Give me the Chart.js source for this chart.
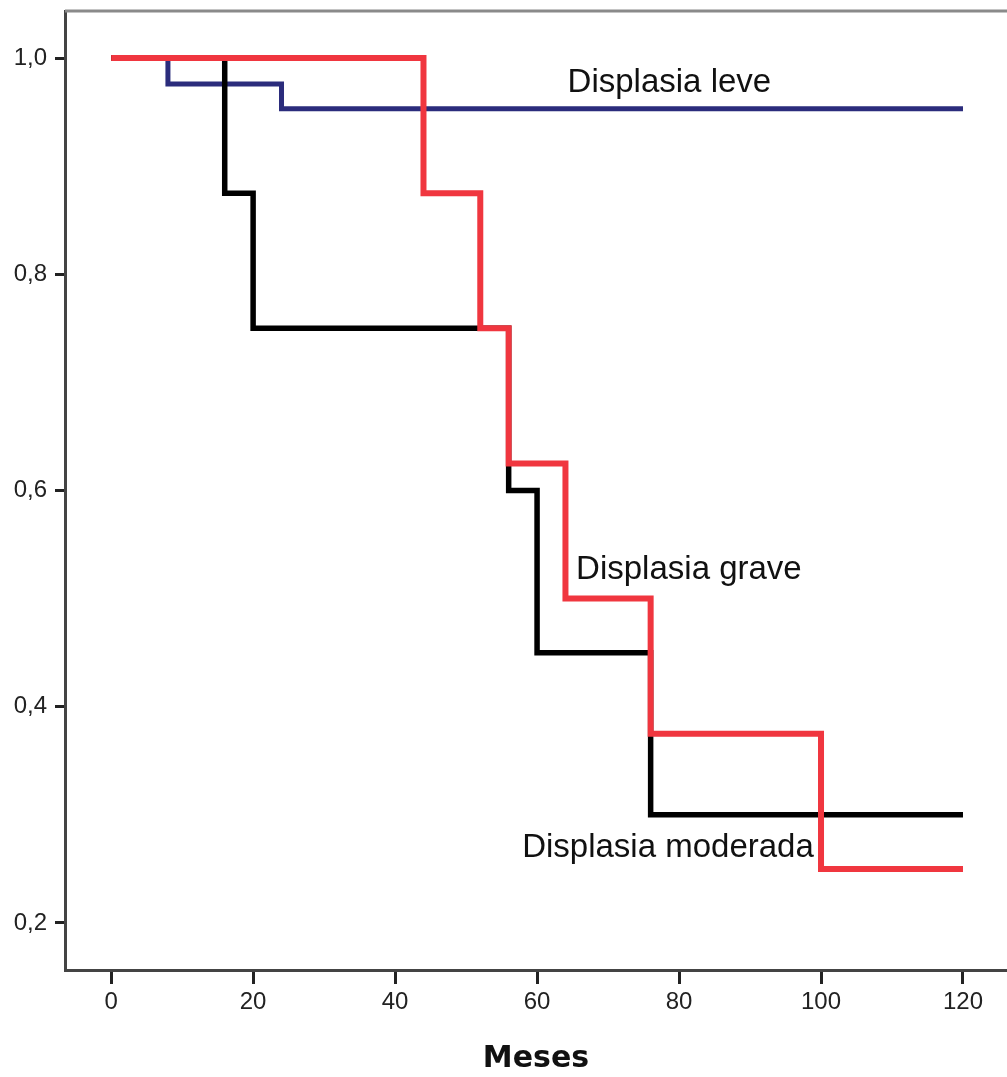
<!DOCTYPE html>
<html>
<head>
<meta charset="utf-8">
<script src="https://cdn.jsdelivr.net/npm/chart.js@4"></script>
<style>
html,body{margin:0;padding:0;background:#fff;}
#wrap{width:1007px;height:1077px;}
</style>
</head>
<body>
<div id="wrap"><canvas id="c" width="1007" height="1077"></canvas></div>
<script>
// Data (Kaplan-Meier step points)
const leveX = [0, 8, 24, 120];
const leveY = [1.0, 0.976, 0.953, 0.953];
const moderadaX = [0, 16, 20, 56, 60, 76, 120];
const moderadaY = [1.0, 0.875, 0.75, 0.6, 0.45, 0.3, 0.3];
const graveX = [0, 44, 52, 56, 64, 76, 100, 120];
const graveY = [1.0, 0.875, 0.75, 0.625, 0.5, 0.375, 0.25, 0.25];
const xTicks = [0, 20, 40, 60, 80, 100, 120];
const yTicks = [0.2, 0.4, 0.6, 0.8, 1.0];
const seriesNames = ["Displasia leve", "Displasia moderada", "Displasia grave"];
const xTitle = "Meses";

function pts(xs, ys) { return xs.map((x, i) => ({x: x, y: ys[i]})); }

const labelPlugin = {
  id: 'curveLabels',
  afterDatasetsDraw(chart) {
    const ctx = chart.ctx;
    const xs = chart.scales.x, ys = chart.scales.y;
    const pos = [[64.3, 0.9685], [57.9, 0.261], [65.5, 0.518]];
    ctx.save();
    ctx.font = '33px "Liberation Sans", Arial, sans-serif';
    ctx.fillStyle = '#111';
    ctx.textAlign = 'left';
    ctx.textBaseline = 'alphabetic';
    seriesNames.forEach((n, i) => {
      ctx.fillText(n, xs.getPixelForValue(pos[i][0]), ys.getPixelForValue(pos[i][1]));
    });
    ctx.restore();
  },
  beforeDatasetsDraw(chart) {
    const ctx = chart.ctx, a = chart.chartArea;
    ctx.save();
    ctx.strokeStyle = '#8a8a8a';
    ctx.lineWidth = 3;
    ctx.beginPath();
    ctx.moveTo(a.left, a.top);
    ctx.lineTo(a.right, a.top);
    ctx.stroke();
    ctx.restore();
  }
};

new Chart(document.getElementById('c'), {
  type: 'line',
  data: {
    datasets: [
      {label: seriesNames[0], data: pts(leveX, leveY), borderColor: '#2b2c7c', borderWidth: 5, order: 3},
      {label: seriesNames[1], data: pts(moderadaX, moderadaY), borderColor: '#000000', borderWidth: 5.5, order: 2},
      {label: seriesNames[2], data: pts(graveX, graveY), borderColor: '#f0363f', borderWidth: 6, order: 1}
    ]
  },
  options: {
    responsive: false,
    animation: false,
    layout: {padding: {left: 0, right: 0, top: 11, bottom: 0}},
    elements: {
      line: {stepped: 'before', tension: 0, fill: false, borderCapStyle: 'butt', borderJoinStyle: 'miter'},
      point: {radius: 0, hoverRadius: 0}
    },
    plugins: {legend: {display: false}, tooltip: {enabled: false}},
    scales: {
      x: {
        type: 'linear',
        min: -6.5, max: 126.2,
        afterBuildTicks: s => { s.ticks = xTicks.map(v => ({value: v})); },
        afterFit: s => { s.height = 107; s.paddingLeft = 0; s.paddingRight = 0; },
        border: {display: true, color: '#444', width: 3},
        grid: {drawOnChartArea: false, drawTicks: true, tickLength: 14, tickColor: '#222', tickWidth: 3},
        ticks: {color: '#222', font: {size: 24, family: '"Liberation Sans", Arial, sans-serif'}, padding: 4, maxRotation: 0},
        title: {display: true, text: xTitle, color: '#111', font: {size: 30, weight: 'bold', family: '"DejaVu Sans", Arial, sans-serif'}, padding: {top: 22, bottom: 0}}
      },
      y: {
        type: 'linear',
        min: 0.1565, max: 1.0435,
        afterBuildTicks: s => { s.ticks = yTicks.map(v => ({value: v})); },
        afterFit: s => { s.width = 65; s.paddingTop = 0; s.paddingBottom = 0; },
        border: {display: true, color: '#444', width: 3},
        grid: {drawOnChartArea: false, drawTicks: true, tickLength: 10, tickColor: '#222', tickWidth: 3},
        ticks: {color: '#222', font: {size: 24, family: '"Liberation Sans", Arial, sans-serif'}, padding: 8,
          callback: v => v.toFixed(1).replace('.', ',')}
      }
    }
  },
  plugins: [labelPlugin]
});
</script>
</body>
</html>
